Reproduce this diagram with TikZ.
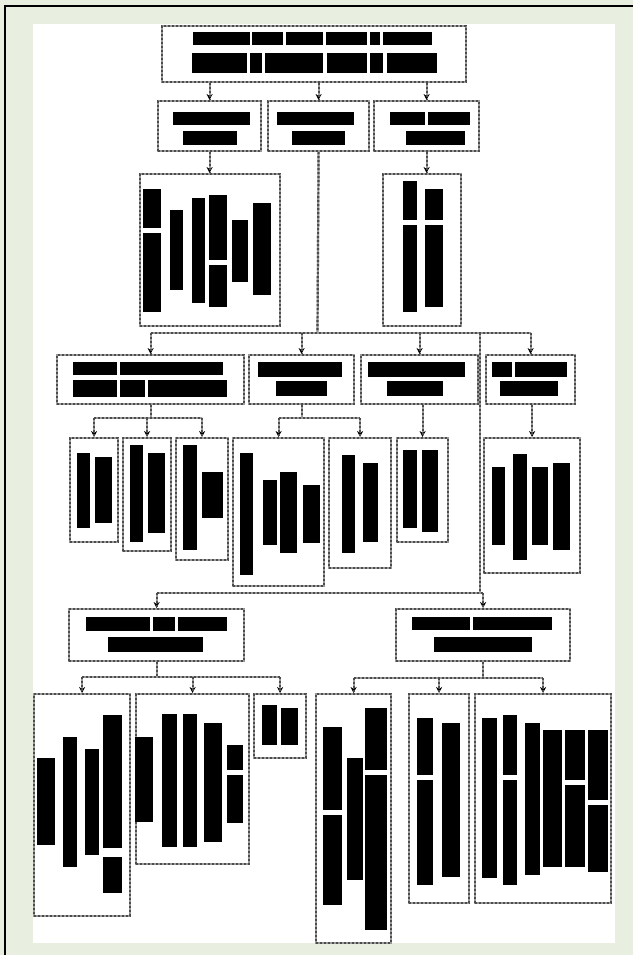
\documentclass[tikz,border=0pt]{standalone}
\usepackage{tikz}
\usetikzlibrary{arrows.meta}
\definecolor{pagegreen}{RGB}{233,239,224}

\tikzset{
  greyline/.style={draw=black!40, line width=2.2pt,
    postaction={draw=black!70, -, line width=2.2pt, dash pattern=on 2pt off 2pt}},
  box/.style={greyline, fill=white, inner sep=0pt, anchor=north west},
  link/.style={greyline},
  arr/.style={greyline, -{Stealth[black, length=6pt, width=6pt]}},
  ink/.style={fill=black},
}

\begin{document}
\begin{tikzpicture}[x=1pt, y=-1pt]
    \useasboundingbox (0,0) rectangle (633,955);
    \fill[pagegreen] (0,0) rectangle (633,955);
    \draw[line width=1.5pt] (5,955) -- (5,6) -- (633,6);
    \fill[white] (33,24) rectangle (615,943);

    % headings
    \node[box, minimum width=304pt, minimum height=56pt] (top) at (161,25) {};
    \node[box, minimum width=103pt, minimum height=50pt] (capA) at (157,100) {};
    \node[box, minimum width=101pt, minimum height=50pt] (capB) at (267,100) {};
    \node[box, minimum width=105pt, minimum height=50pt] (capC) at (373,100) {};
    \node[box, minimum width=140pt, minimum height=152pt] (listA) at (139,173) {};
    \node[box, minimum width=78pt, minimum height=152pt] (listC) at (382,173) {};
    \node[box, minimum width=187pt, minimum height=49pt] (grpA) at (56,354) {};
    \node[box, minimum width=105pt, minimum height=49pt] (grpB) at (248,354) {};
    \node[box, minimum width=117pt, minimum height=49pt] (grpC) at (360,354) {};
    \node[box, minimum width=89pt, minimum height=49pt] (grpD) at (485,354) {};
    % leaves under the groups
    \node[box, minimum width=48pt, minimum height=104pt] (leaf1) at (69,437) {};
    \node[box, minimum width=48pt, minimum height=113pt] (leaf2) at (122,437) {};
    \node[box, minimum width=52pt, minimum height=122pt] (leaf3) at (175,437) {};
    \node[box, minimum width=91pt, minimum height=148pt] (leaf4) at (232,437) {};
    \node[box, minimum width=62pt, minimum height=130pt] (leaf5) at (328,437) {};
    \node[box, minimum width=51pt, minimum height=104pt] (leaf6) at (396,437) {};
    \node[box, minimum width=96pt, minimum height=135pt] (leaf7) at (483,437) {};
    \node[box, minimum width=175pt, minimum height=52pt] (subL) at (68,608) {};
    \node[box, minimum width=174pt, minimum height=52pt] (subR) at (395,608) {};
    \node[box, minimum width=96pt, minimum height=222pt] (end1) at (33,693) {};
    \node[box, minimum width=113pt, minimum height=170pt] (end2) at (135,693) {};
    \node[box, minimum width=52pt, minimum height=64pt] (end3) at (253,693) {};
    \node[box, minimum width=75pt, minimum height=249pt] (end4) at (315,693) {};
    \node[box, minimum width=60pt, minimum height=209pt] (end5) at (408,693) {};
    \node[box, minimum width=136pt, minimum height=209pt] (end6) at (474,693) {};

    % connectors
    \foreach \n in {capA,capB,capC}
        \draw[arr] (top.south -| \n.north) -- (\n.north);
    \draw[arr] (capA.south) -- (capA.south |- listA.north);
    \draw[arr] (capC.south) -- (capC.south |- listC.north);

    \coordinate (busB) at (317.5,333);
    \coordinate (busE) at (480,593);
    \draw[link] (capB.south) -- (busB);
    \draw[link] (grpA.north |- busB) -- (grpD.north |- busB);
    \foreach \n in {grpA,grpB,grpC,grpD}
        \draw[arr] (\n.north |- busB) -- (\n.north);
    \draw[link] (busB -| busE) -- (busE);
    \draw[link] (subL.north |- busE) -- (subR.north |- busE);
    \foreach \n in {subL,subR}
        \draw[arr] (\n.north |- busE) -- (\n.north);

    \path (grpA.south) ++(0,13) coordinate (busA);
    \draw[link] (grpA.south) -- (busA);
    \draw[link] (leaf1.north |- busA) -- (leaf3.north |- busA);
    \foreach \n in {leaf1,leaf2,leaf3}
        \draw[arr] (\n.north |- busA) -- (\n.north);
    \path (grpB.south) ++(0,13) coordinate (busG);
    \draw[link] (grpB.south) -- (busG);
    \draw[link] (leaf4.north |- busG) -- (leaf5.north |- busG);
    \foreach \n in {leaf4,leaf5}
        \draw[arr] (\n.north |- busG) -- (\n.north);
    \draw[arr] (leaf6.north |- grpC.south) -- (leaf6.north);
    \draw[arr] (leaf7.north |- grpD.south) -- (leaf7.north);

    \path (subL.south) ++(0,15) coordinate (busL);
    \draw[link] (subL.south) -- (busL);
    \draw[link] (end1.north |- busL) -- (end3.north |- busL);
    \foreach \n in {end1,end2,end3}
        \draw[arr] (\n.north |- busL) -- (\n.north);
    \path (subR.south) ++(0,16) coordinate (busR);
    \draw[link] (subR.south) -- (busR);
    \draw[link] (end4.north |- busR) -- (end6.north |- busR);
    \foreach \n in {end4,end5,end6}
        \draw[arr] (\n.north |- busR) -- (\n.north);

    % lettering of the headings (lines of words)
    \foreach \xa/\xb/\ya/\yb in {193/250/32/45, 252/283/32/45, 286/323/32/45,
        326/367/32/45, 370/380/32/45, 383/432/32/45, 192/247/53/73, 250/262/53/73,
        265/323/53/73, 327/367/53/73, 370/383/53/73, 387/437/53/73,
        173/250/112/125, 183/237/131/145, 277/354/112/125, 292/345/131/145,
        390/425/112/125, 428/470/112/125, 406/465/131/145,
        73/117/362/375, 120/223/362/375, 73/117/380/397, 120/145/380/397,
        148/227/380/397, 258/342/362/377, 276/327/381/396,
        368/465/362/377, 387/443/381/396, 492/512/362/377, 515/567/362/377,
        500/558/381/396, 86/150/617/631, 153/175/617/631, 178/227/617/631,
        108/203/637/652, 412/470/617/630, 473/552/617/630, 434/532/637/652}
        \fill[ink] (\xa,\ya) rectangle (\xb,\yb);

    % upright lettering in the lists
    \foreach \xa/\xb/\ya/\yb in {143/161/189/228, 143/161/233/312, 170/183/210/290,
        192/205/198/303, 209/227/195/260, 209/227/265/307, 232/248/220/282,
        253/271/203/295, 403/417/181/220, 403/417/225/312, 425/443/189/220,
        425/443/225/307,
        77/90/453/528, 95/112/457/523, 130/143/445/542, 148/165/453/533,
        183/197/445/550, 202/223/472/518, 240/253/453/575, 263/277/480/545,
        280/297/472/553, 303/320/485/543, 342/355/455/553, 363/378/463/542,
        403/417/450/528, 422/438/450/532, 492/505/467/545, 513/527/454/560,
        532/548/467/545, 553/570/463/550,
        37/55/758/845, 63/77/737/867, 85/99/749/855, 103/122/715/848,
        103/122/857/893, 135/153/737/822, 162/177/714/847, 183/197/714/847,
        204/222/723/842, 227/243/745/770, 227/243/775/823, 262/277/705/745,
        281/298/708/745, 323/342/727/810, 323/342/815/905, 347/363/758/880,
        365/387/708/770, 365/387/775/930, 417/433/718/775, 417/433/780/885,
        442/460/723/877, 482/497/718/878, 503/517/715/775, 503/517/780/885,
        525/540/723/875, 543/562/730/867, 565/585/730/780, 565/585/785/867,
        588/608/730/800, 588/608/805/872}
        \fill[ink] (\xa,\ya) rectangle (\xb,\yb);
\end{tikzpicture}
\end{document}
